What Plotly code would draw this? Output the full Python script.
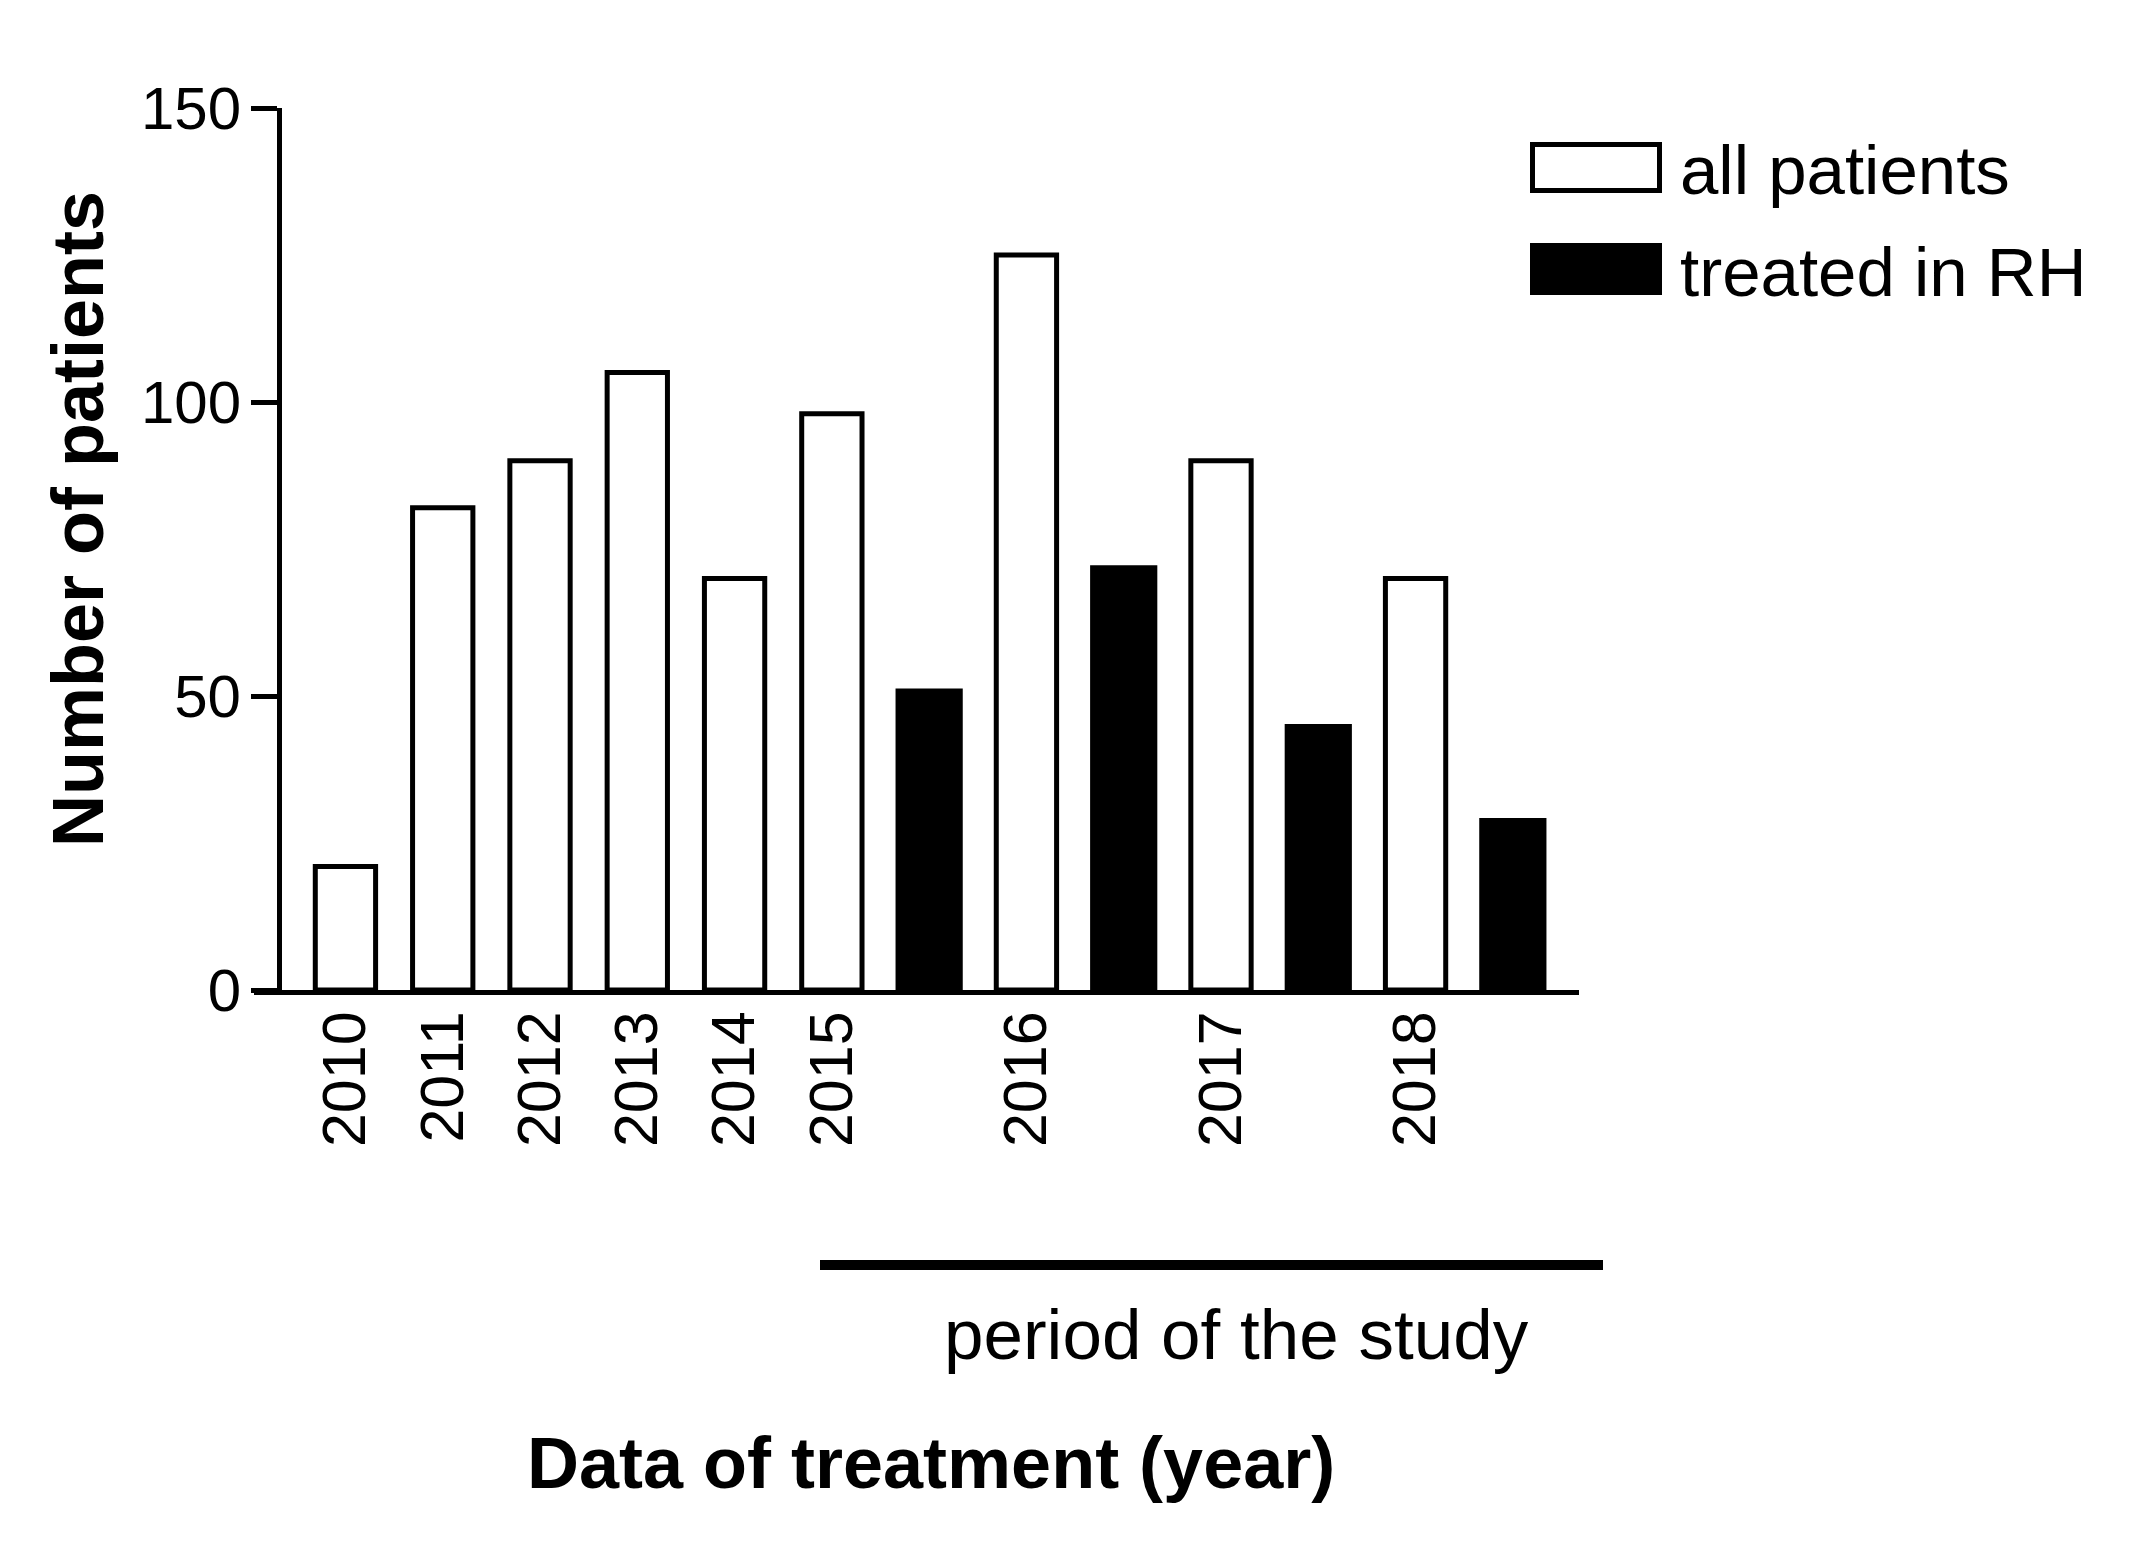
import plotly.graph_objects as go

# ---- data ----
years = [2010, 2011, 2012, 2013, 2014, 2015, 2016, 2017, 2018]
all_patients = [21, 82, 90, 105, 70, 98, 125, 90, 70]
rh_years = [2015, 2016, 2017, 2018]
treated_rh = [51, 72, 45, 29]
y_ticks = [0, 50, 100, 150]
study_start = 2015

# slot positions: years before study one slot, study years two slots (all + RH)
def slot(year, rh=False):
    return (year - 2010) + max(0, year - study_start) + (1 if rh else 0)

x_all = [slot(y) for y in years]
x_rh = [slot(y, True) for y in rh_years]

W, H = 2148, 1556
OFF = 8  # page body margin
L, R, T, B = 254, 1579, 108, 990  # plot area in page px
WF, HF = W - 2 * OFF, H - 2 * OFF

def px(p):
    return (p - L) / (R - L)

def py(p):
    return (B - p) / (B - T)

FONT = "Liberation Sans, Arial, sans-serif"

fig = go.Figure()
fig.add_trace(go.Bar(
    x=x_all, y=all_patients, width=0.62, name="all patients",
    marker=dict(color="white", line=dict(color="black", width=5)),
))
fig.add_trace(go.Bar(
    x=x_rh, y=treated_rh, width=0.66, name="treated in RH",
    marker=dict(color="black", line=dict(color="black", width=3)),
))

fig.update_layout(
    width=WF, height=HF,
    margin=dict(l=L - OFF, r=WF - (R - OFF), t=T - OFF, b=HF - (B - OFF), pad=0),
    paper_bgcolor="white", plot_bgcolor="white",
    barmode="overlay", showlegend=False,
    font=dict(family=FONT, color="black", size=58),
    xaxis=dict(
        range=[-0.94, 12.68], showline=True, linewidth=5, linecolor="black",
        tickmode="array", tickvals=x_all, ticktext=[str(y) for y in years],
        tickangle=-90, ticks="", showgrid=False, zeroline=False,
        ticklabelstandoff=-8,
        tickfont=dict(size=61, family=FONT, color="black"),
    ),
    yaxis=dict(
        range=[0, 150], tickvals=y_ticks, ticks="outside", ticklen=26,
        tickwidth=5, tickcolor="black", showline=True, linewidth=5,
        linecolor="black", anchor="free", position=px(279),
        showgrid=False, zeroline=False, ticklabelstandoff=-2,
        tickfont=dict(size=60, family=FONT, color="black"),
    ),
)

shapes = [
    dict(type="line", xref="paper", yref="paper", x0=px(820), x1=px(1603),
         y0=py(1265), y1=py(1265), line=dict(color="black", width=10)),
    dict(type="rect", xref="paper", yref="paper", x0=px(1532.5), x1=px(1659.5),
         y0=py(190.5), y1=py(144.5), fillcolor="white",
         line=dict(color="black", width=5)),
    dict(type="rect", xref="paper", yref="paper", x0=px(1530), x1=px(1662),
         y0=py(295), y1=py(243), fillcolor="black", line=dict(width=0)),
]
fig.update_layout(shapes=shapes)

annotations = [
    dict(text="<b>Number of patients</b>", textangle=-90, x=px(78), y=py(519),
         xref="paper", yref="paper", showarrow=False, xanchor="center",
         yanchor="middle", font=dict(size=72, family=FONT, color="black")),
    dict(text="<b>Data of treatment (year)</b>", x=px(931), y=py(1463),
         xref="paper", yref="paper", showarrow=False, xanchor="center",
         yanchor="middle", font=dict(size=72, family=FONT, color="black")),
    dict(text="period of the study", x=px(1236), y=py(1334),
         xref="paper", yref="paper", showarrow=False, xanchor="center",
         yanchor="middle", font=dict(size=71, family=FONT, color="black")),
    dict(text="all patients", x=px(1678), y=py(170),
         xref="paper", yref="paper", showarrow=False, xanchor="left",
         yanchor="middle", font=dict(size=69, family=FONT, color="black")),
    dict(text="treated in RH", x=px(1678), y=py(272),
         xref="paper", yref="paper", showarrow=False, xanchor="left",
         yanchor="middle", font=dict(size=69, family=FONT, color="black")),
]
fig.update_layout(annotations=annotations)

fig.write_html("out.html")
